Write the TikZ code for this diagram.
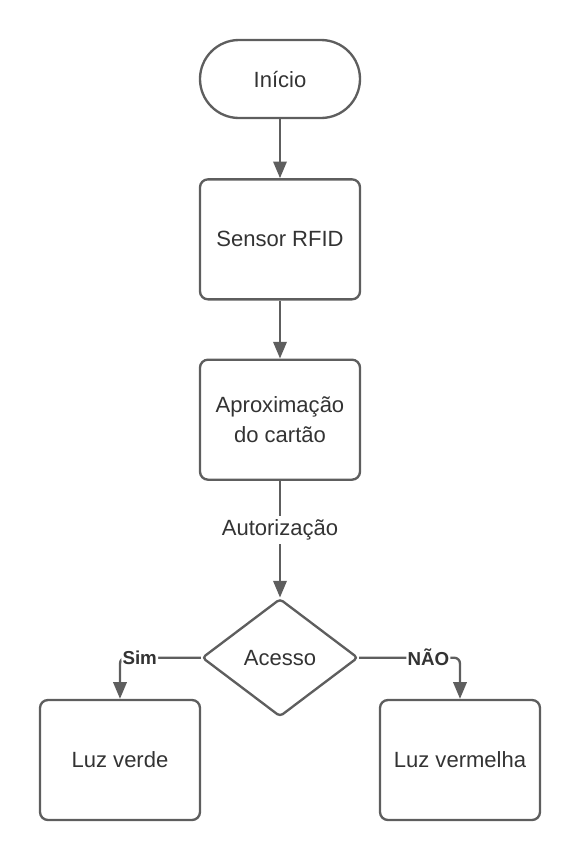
\documentclass[tikz,border=0pt]{standalone}
\usepackage{fontspec}
\setmainfont{Liberation Sans}
\usetikzlibrary{arrows.meta,positioning,shapes.geometric}
\definecolor{linegray}{HTML}{5E5E5E}
\definecolor{textgray}{HTML}{333333}

\begin{document}
\begin{tikzpicture}[font=\fontsize{18.8}{25.6}\selectfont,
    box/.style={draw=linegray, line width=2pt, rounded corners=0.24cm, text=textgray,
                minimum width=4.8cm, minimum height=3.6cm, align=center},
    flow/.style={draw=linegray, line width=2pt, arrows={-Triangle[length=0.5cm, width=0.4cm]}},
    answer/.style={fill=white, text=textgray, inner sep=1pt,
                   font=\fontsize{16}{19}\selectfont\bfseries}]
  \useasboundingbox (-8.4cm, 2.37cm) rectangle (9cm, -23.43cm);
  % Main path nodes
  % Start node
  \node(start)[draw=linegray, line width=2pt, rounded corners=1.17cm, text=textgray,
               minimum width=4.8cm, minimum height=2.34cm] at (0cm, 0cm) {Início};
  % Process nodes
  \node[below=1.77cm of start] (sensor)[box] {Sensor RFID};
  \node[below=1.74cm of sensor] (cartao)[box] {Aproximação\\do cartão};
  % Decision node
  \node[below=3.5cm of cartao] (acesso)[diamond, aspect=1.32, draw=linegray, line width=2pt,
        rounded corners=3pt, text=textgray, minimum width=4.68cm, minimum height=3.54cm] {Acesso};
  % Result nodes
  \node(verde)[box] at (-4.8cm, -20.43cm) {Luz verde};
  \node(vermelha)[box] at (5.4cm, -20.43cm) {Luz vermelha};
  % Arrows
  \draw[flow] (start) -- (sensor);
  \draw[flow] (sensor) -- (cartao);
  \draw[flow] (cartao) -- node[pos=0.42, fill=white, text=textgray] {Autorização} (acesso);
  \draw[flow, rounded corners=5pt] (acesso.west) -| node[pos=0.378, answer] {Sim} (verde.north);
  \draw[flow, rounded corners=5pt] (acesso.east) -| node[pos=0.343, answer] {NÃO} (vermelha.north);
\end{tikzpicture}
\end{document}
